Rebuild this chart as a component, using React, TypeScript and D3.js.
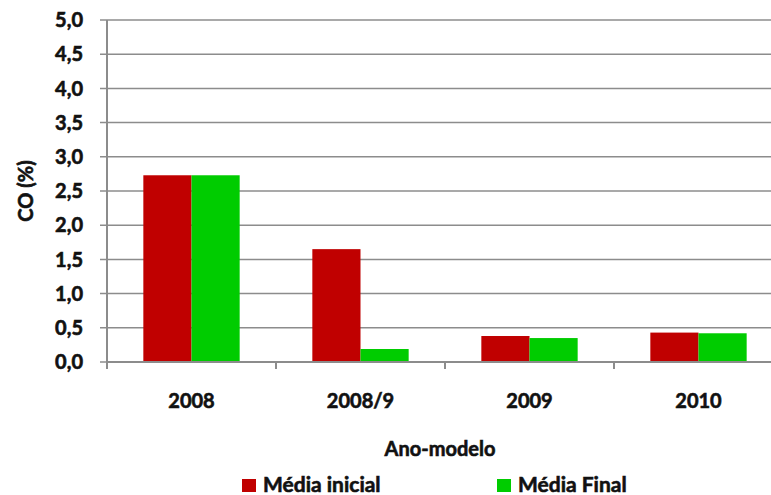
import React from "react";
import * as d3 from "d3";

const categories = ["2008", "2008/9", "2009", "2010"];
const mediaInicial = [2.73, 1.65, 0.38, 0.43];
const mediaFinal = [2.73, 0.19, 0.35, 0.42];
const seriesNames = ["Média inicial", "Média Final"];
const seriesColors = ["#C00000", "#00CC00"];
const yTicks = [0, 0.5, 1, 1.5, 2, 2.5, 3, 3.5, 4, 4.5, 5];

const W = 771;
const H = 495;
const left = 107;
const right = 783;
const top = 20;
const bottom = 362;
const FONT = "Lato, 'Open Sans', sans-serif";
const textStyle = {
  fontFamily: FONT,
  fontWeight: "bold" as const,
  fontSize: 20,
  fill: "#111",
  stroke: "#111",
  strokeWidth: 0.6,
};

export default function App() {
  const x = d3.scaleBand<string>().domain(categories).range([left, right]).paddingInner(0).paddingOuter(0);
  const y = d3.scaleLinear().domain([0, 5]).range([bottom, top]);
  const bw = x.bandwidth();
  const barW = bw * 0.285;
  const series = [mediaInicial, mediaFinal];
  const fmt = (v: number) => v.toFixed(1).replace(".", ",");

  return (
    <svg width={W} height={H} style={{ position: "absolute", left: 0, top: 0, background: "#fff" }}>
      {yTicks.map((t) => (
        <g key={t}>
          <line x1={left - 7} x2={W} y1={y(t)} y2={y(t)} stroke="#8c8c8c" strokeWidth={1.5} />
          <text x={83} y={y(t)} dy="0.36em" textAnchor="end" style={textStyle}>
            {fmt(t)}
          </text>
        </g>
      ))}
      {categories.map((c, i) =>
        series.map((s, j) => {
          const cx = (x(c) as number) + bw / 2;
          const x0 = cx - barW + j * barW;
          return (
            <rect key={c + j} x={x0} y={y(s[i])} width={barW} height={bottom - y(s[i])} fill={seriesColors[j]} />
          );
        })
      )}
      <line x1={left} x2={left} y1={top} y2={bottom + 7} stroke="#8c8c8c" strokeWidth={2} />
      <line x1={left} x2={W} y1={bottom} y2={bottom} stroke="#8c8c8c" strokeWidth={2} />
      {categories.slice(1).map((c) => (
        <line key={c} x1={x(c) as number} x2={x(c) as number} y1={bottom} y2={bottom + 7} stroke="#8c8c8c" strokeWidth={2} />
      ))}
      {categories.map((c) => (
        <text key={c} x={(x(c) as number) + bw / 2} y={408} textAnchor="middle" style={textStyle}>
          {c}
        </text>
      ))}
      <text x={440} y={456} textAnchor="middle" style={textStyle}>
        Ano-modelo
      </text>
      <text transform={`translate(33,191) rotate(-90)`} textAnchor="middle" style={textStyle}>
        CO (%)
      </text>
      {seriesNames.map((n, j) => {
        const lx = j === 0 ? 242 : 497;
        return (
          <g key={n}>
            <rect x={lx} y={479} width={14} height={13} fill={seriesColors[j]} />
            <text x={lx + 21} y={492} style={{ ...textStyle, fontSize: 21 }}>
              {n}
            </text>
          </g>
        );
      })}
    </svg>
  );
}
